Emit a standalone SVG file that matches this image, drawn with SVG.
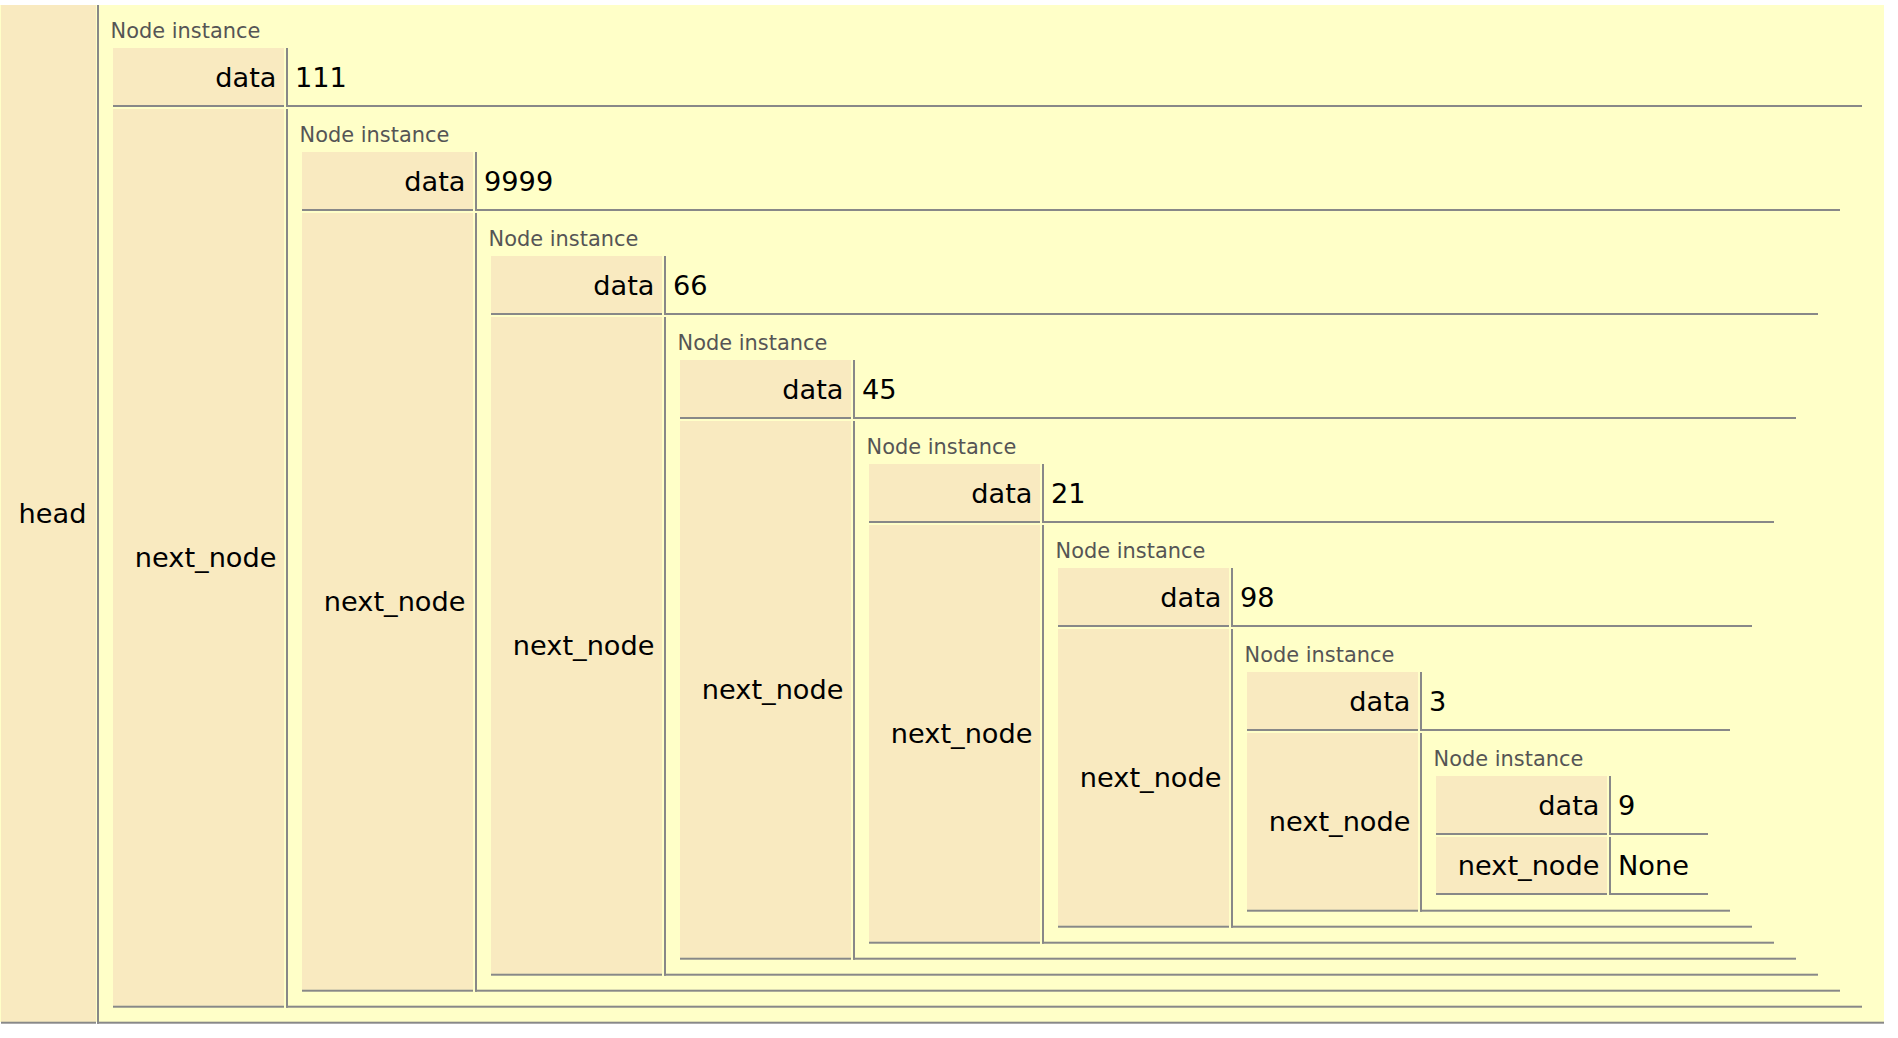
<svg xmlns="http://www.w3.org/2000/svg" width="1898" height="1038" viewBox="0 0 1898 1038">
<style>
.bg{fill:#FFFFC8}
.key{fill:#F9EAC0}
.ln{fill:#888888}
.t{font-family:"DejaVu Sans",Verdana,sans-serif;font-size:27.2px;fill:#000}
.k{text-anchor:end}
.lbl{font-family:"DejaVu Sans",Verdana,sans-serif;font-size:20.9px;fill:#555555}
</style>
<rect x="0" y="0" width="1898" height="1038" fill="#ffffff"/>
<g id="head-row">
<rect class="bg" x="0" y="5" width="1884" height="1017"/>
<rect class="key" x="1" y="5" width="95" height="1016.7"/>
<rect class="ln" x="1" y="1021.7" width="95" height="2"/>
<rect class="ln" x="97" y="5" width="2" height="1018.7"/>
<rect class="ln" x="97" y="1021.7" width="1787" height="2"/>
<text class="t k" x="86.5" y="523">head</text>
</g>
<g id="node-0">
<text class="lbl" x="110.6" y="37.7">Node instance</text>
<rect class="key" x="113" y="48" width="171" height="57"/>
<rect class="ln" x="113" y="105" width="171" height="2"/>
<rect class="ln" x="286" y="48" width="2" height="59"/>
<rect class="ln" x="286" y="105" width="1576" height="2"/>
<text class="t k" x="276.5" y="87">data</text>
<text class="t" x="295" y="87">111</text>
<rect class="key" x="113" y="109" width="171" height="896.7"/>
<rect class="ln" x="113" y="1005.7" width="171" height="2"/>
<rect class="ln" x="286" y="109" width="2" height="898.7"/>
<rect class="ln" x="286" y="1005.7" width="1576" height="2"/>
<text class="t k" x="276.5" y="566.9">next_node</text>
</g>
<g id="node-1">
<text class="lbl" x="299.6" y="141.7">Node instance</text>
<rect class="key" x="302" y="152" width="171" height="57"/>
<rect class="ln" x="302" y="209" width="171" height="2"/>
<rect class="ln" x="475" y="152" width="2" height="59"/>
<rect class="ln" x="475" y="209" width="1365" height="2"/>
<text class="t k" x="465.5" y="191">data</text>
<text class="t" x="484" y="191">9999</text>
<rect class="key" x="302" y="213" width="171" height="776.7"/>
<rect class="ln" x="302" y="989.7" width="171" height="2"/>
<rect class="ln" x="475" y="213" width="2" height="778.7"/>
<rect class="ln" x="475" y="989.7" width="1365" height="2"/>
<text class="t k" x="465.5" y="610.9">next_node</text>
</g>
<g id="node-2">
<text class="lbl" x="488.6" y="245.7">Node instance</text>
<rect class="key" x="491" y="256" width="171" height="57"/>
<rect class="ln" x="491" y="313" width="171" height="2"/>
<rect class="ln" x="664" y="256" width="2" height="59"/>
<rect class="ln" x="664" y="313" width="1154" height="2"/>
<text class="t k" x="654.5" y="295">data</text>
<text class="t" x="673" y="295">66</text>
<rect class="key" x="491" y="317" width="171" height="656.7"/>
<rect class="ln" x="491" y="973.7" width="171" height="2"/>
<rect class="ln" x="664" y="317" width="2" height="658.7"/>
<rect class="ln" x="664" y="973.7" width="1154" height="2"/>
<text class="t k" x="654.5" y="654.9">next_node</text>
</g>
<g id="node-3">
<text class="lbl" x="677.6" y="349.7">Node instance</text>
<rect class="key" x="680" y="360" width="171" height="57"/>
<rect class="ln" x="680" y="417" width="171" height="2"/>
<rect class="ln" x="853" y="360" width="2" height="59"/>
<rect class="ln" x="853" y="417" width="943" height="2"/>
<text class="t k" x="843.5" y="399">data</text>
<text class="t" x="862" y="399">45</text>
<rect class="key" x="680" y="421" width="171" height="536.7"/>
<rect class="ln" x="680" y="957.7" width="171" height="2"/>
<rect class="ln" x="853" y="421" width="2" height="538.7"/>
<rect class="ln" x="853" y="957.7" width="943" height="2"/>
<text class="t k" x="843.5" y="698.9">next_node</text>
</g>
<g id="node-4">
<text class="lbl" x="866.6" y="453.7">Node instance</text>
<rect class="key" x="869" y="464" width="171" height="57"/>
<rect class="ln" x="869" y="521" width="171" height="2"/>
<rect class="ln" x="1042" y="464" width="2" height="59"/>
<rect class="ln" x="1042" y="521" width="732" height="2"/>
<text class="t k" x="1032.5" y="503">data</text>
<text class="t" x="1051" y="503">21</text>
<rect class="key" x="869" y="525" width="171" height="416.7"/>
<rect class="ln" x="869" y="941.7" width="171" height="2"/>
<rect class="ln" x="1042" y="525" width="2" height="418.7"/>
<rect class="ln" x="1042" y="941.7" width="732" height="2"/>
<text class="t k" x="1032.5" y="742.9">next_node</text>
</g>
<g id="node-5">
<text class="lbl" x="1055.6" y="557.7">Node instance</text>
<rect class="key" x="1058" y="568" width="171" height="57"/>
<rect class="ln" x="1058" y="625" width="171" height="2"/>
<rect class="ln" x="1231" y="568" width="2" height="59"/>
<rect class="ln" x="1231" y="625" width="521" height="2"/>
<text class="t k" x="1221.5" y="607">data</text>
<text class="t" x="1240" y="607">98</text>
<rect class="key" x="1058" y="629" width="171" height="296.7"/>
<rect class="ln" x="1058" y="925.7" width="171" height="2"/>
<rect class="ln" x="1231" y="629" width="2" height="298.7"/>
<rect class="ln" x="1231" y="925.7" width="521" height="2"/>
<text class="t k" x="1221.5" y="786.9">next_node</text>
</g>
<g id="node-6">
<text class="lbl" x="1244.6" y="661.7">Node instance</text>
<rect class="key" x="1247" y="672" width="171" height="57"/>
<rect class="ln" x="1247" y="729" width="171" height="2"/>
<rect class="ln" x="1420" y="672" width="2" height="59"/>
<rect class="ln" x="1420" y="729" width="310" height="2"/>
<text class="t k" x="1410.5" y="711">data</text>
<text class="t" x="1429" y="711">3</text>
<rect class="key" x="1247" y="733" width="171" height="176.7"/>
<rect class="ln" x="1247" y="909.7" width="171" height="2"/>
<rect class="ln" x="1420" y="733" width="2" height="178.7"/>
<rect class="ln" x="1420" y="909.7" width="310" height="2"/>
<text class="t k" x="1410.5" y="830.9">next_node</text>
</g>
<g id="node-7">
<text class="lbl" x="1433.6" y="765.7">Node instance</text>
<rect class="key" x="1436" y="776" width="171" height="57"/>
<rect class="ln" x="1436" y="833" width="171" height="2"/>
<rect class="ln" x="1609" y="776" width="2" height="59"/>
<rect class="ln" x="1609" y="833" width="99" height="2"/>
<text class="t k" x="1599.5" y="815">data</text>
<text class="t" x="1618" y="815">9</text>
<rect class="key" x="1436" y="837" width="171" height="56"/>
<rect class="ln" x="1436" y="893" width="171" height="2"/>
<rect class="ln" x="1609" y="837" width="2" height="58"/>
<rect class="ln" x="1609" y="893" width="99" height="2"/>
<text class="t k" x="1599.5" y="874.5">next_node</text>
<text class="t" x="1618" y="874.5">None</text>
</g>
</svg>
